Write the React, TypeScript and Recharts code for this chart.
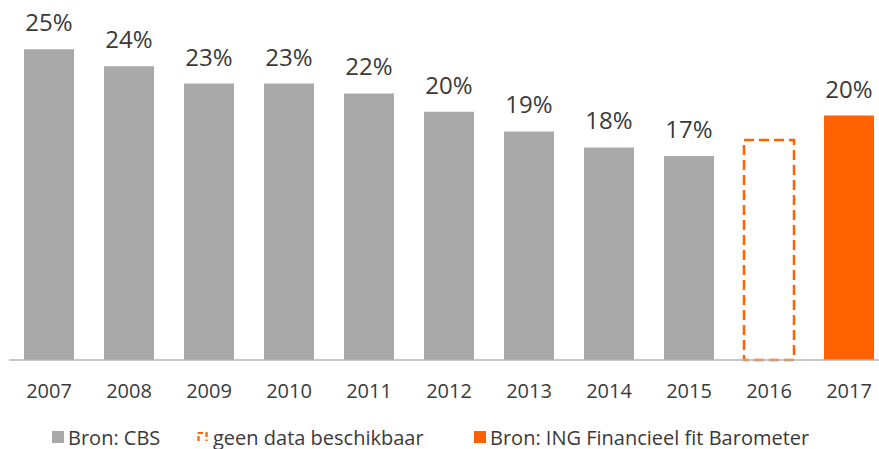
import React from 'react';
import { BarChart, Bar, XAxis, YAxis, LabelList, Legend } from 'recharts';

const years = ['2007', '2008', '2009', '2010', '2011', '2012', '2013', '2014', '2015', '2016', '2017'];
const cbsValues = [25.3, 23.9, 22.5, 22.5, 21.7, 20.2, 18.6, 17.3, 16.6, null, null];
const gapValues = [null, null, null, null, null, null, null, null, null, 17.9, null];
const ingValues = [null, null, null, null, null, null, null, null, null, null, 19.9];
const valueLabels = ['25%', '24%', '23%', '23%', '22%', '20%', '19%', '18%', '17%', null, '20%'];
const seriesNames = ['Bron: CBS', 'geen data beschikbaar', 'Bron: ING Financieel fit Barometer'];

const GRAY = '#a9a9a9';
const ORANGE = '#ff6200';
const TEXT = '#3a3a3a';
const FONT = '"Open Sans", "Noto Sans", sans-serif';

const data = years.map((year, i) => ({
  year,
  cbs: cbsValues[i],
  gap: gapValues[i],
  ing: ingValues[i],
  cbsLabel: cbsValues[i] != null ? valueLabels[i] : null,
  ingLabel: ingValues[i] != null ? valueLabels[i] : null,
}));

const renderLabel = (p: any) => {
  if (p.value == null || p.value === '') return null;
  return (
    <text
      x={p.x + p.width / 2}
      y={p.y - 18}
      textAnchor="middle"
      fill={TEXT}
      fontSize={24}
      fontFamily={FONT}
    >
      {p.value}
    </text>
  );
};

const renderTick = (p: any) => (
  <text x={p.x} y={p.y + 38} textAnchor="middle" fill={TEXT} fontSize={20} fontFamily={FONT}>
    {p.payload.value}
  </text>
);

const legendLefts = [52, 197, 474];

const renderLegend = () => (
  <div style={{ position: 'relative', width: 879, height: 24, fontFamily: FONT, fontSize: 20, color: TEXT }}>
    {seriesNames.map((name, i) => (
      <div
        key={name}
        style={{
          position: 'absolute',
          left: legendLefts[i],
          top: 0,
          height: 24,
          display: 'flex',
          alignItems: 'center',
          whiteSpace: 'nowrap',
        }}
      >
        {i === 1 ? (
          <svg width={12} height={12} style={{ marginRight: 4 }}>
            <path d="M1.5 10 V2 H9.5 V10" fill="none" stroke={ORANGE} strokeWidth={2.2} strokeDasharray="5 2.5" />
          </svg>
        ) : (
          <svg width={12} height={12} style={{ marginRight: 4 }}>
            <rect x={0} y={0} width={12} height={12} fill={i === 0 ? GRAY : ORANGE} />
          </svg>
        )}
        <span>{name}</span>
      </div>
    ))}
  </div>
);

export default function App() {
  return (
    <div style={{ position: 'absolute', left: 0, top: 0, width: 879, height: 449, overflow: 'hidden', background: '#fff' }}>
      <BarChart
        width={890}
        height={449}
        data={data}
        margin={{ top: 16, right: 1, bottom: 49, left: 9 }}
        style={{ fontFamily: FONT }}
      >
        <XAxis
          dataKey="year"
          axisLine={{ stroke: '#b4b4b4', strokeWidth: 1.5 }}
          tickLine={false}
          tickSize={0}
          tickMargin={0}
          height={40}
          interval={0}
          tick={renderTick}
        />
        <YAxis hide domain={[0, 28]} />
        <Legend
          verticalAlign="middle"
          layout="horizontal"
          align="center"
          wrapperStyle={{ top: 425, left: 0, width: 879 }}
          content={renderLegend}
        />
        <Bar dataKey="cbs" name={seriesNames[0]} stackId="a" fill={GRAY} barSize={50} isAnimationActive={false}>
          <LabelList dataKey="cbsLabel" content={renderLabel} />
        </Bar>
        <Bar
          dataKey="gap"
          name={seriesNames[1]}
          stackId="a"
          fill="none"
          stroke={ORANGE}
          strokeWidth={2.5}
          strokeDasharray="10 5"
          barSize={50}
          isAnimationActive={false}
        />
        <Bar dataKey="ing" name={seriesNames[2]} stackId="a" fill={ORANGE} barSize={50} isAnimationActive={false}>
          <LabelList dataKey="ingLabel" content={renderLabel} />
        </Bar>
      </BarChart>
    </div>
  );
}
